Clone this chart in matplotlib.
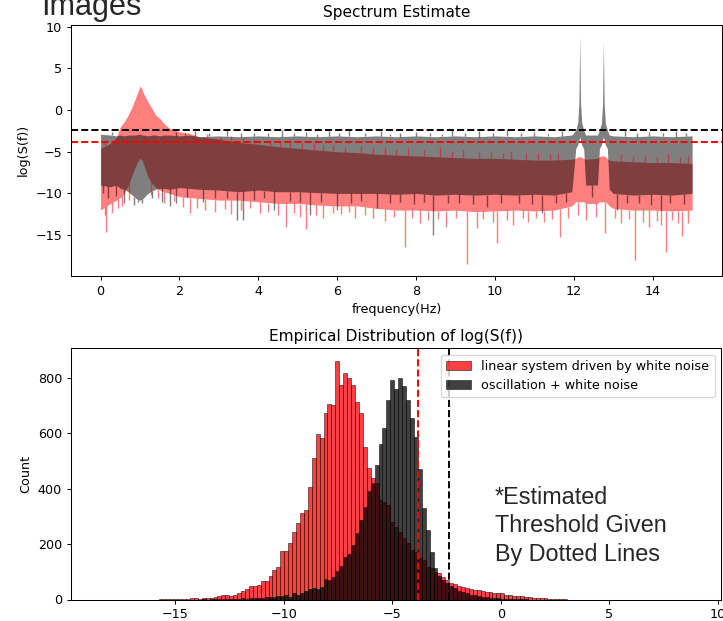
import numpy as np
import matplotlib
matplotlib.use("Agg")
import matplotlib.pyplot as plt

# ---- spectrum estimate (envelopes) ----
freq = [0.0, 0.25, 0.4, 0.5, 0.6, 0.7, 0.8, 0.9, 0.95, 1.0, 1.05, 1.1, 1.2,
        1.3, 1.4, 1.5, 1.6, 1.75, 2.0, 2.25, 2.5, 3.0, 3.5, 4.0, 4.5, 5.0,
        5.5, 6.0, 6.5, 7.0, 7.5, 8.0, 8.5, 9.0, 9.5, 10.0, 10.5, 11.0, 11.5,
        11.95, 12.05, 12.1, 12.13, 12.15, 12.17, 12.2, 12.25, 12.3, 12.6,
        12.65, 12.7, 12.73, 12.75, 12.77, 12.8, 12.85, 12.9, 13.0, 13.5,
        14.0, 14.5, 15.0]

osc_hi = [-2.9, -3.0, -3.1, -3.0, -3.1, -3.0, -3.0, -3.0, -2.9, -2.9, -3.0,
          -3.0, -3.1, -3.0, -3.0, -3.1, -3.0, -3.0, -3.1, -3.0, -3.2, -3.1,
          -3.2, -3.1, -3.2, -3.1, -3.2, -3.1, -3.2, -3.1, -3.2, -3.1, -3.2,
          -3.1, -3.2, -3.1, -3.2, -3.1, -3.2, -3.0, -2.4, -1.5, 1.0, 8.9,
          1.0, -1.5, -2.4, -3.0, -3.0, -2.4, -1.6, 0.8, 8.3, 0.8, -1.6,
          -2.4, -3.0, -3.1, -3.2, -3.1, -3.2, -3.1]
osc_lo = [-9.0, -9.2, -9.0, -9.4, -9.5, -9.8, -10.2, -10.6, -10.8, -10.8,
          -10.7, -10.5, -10.0, -9.7, -9.5, -9.4, -9.4, -9.5, -9.3, -9.4,
          -9.5, -9.6, -9.8, -9.6, -9.8, -9.8, -9.9, -10.0, -10.0, -10.0,
          -10.1, -10.0, -10.2, -10.1, -10.2, -10.1, -10.2, -10.1, -10.2,
          -9.8, -4.6, -4.2, -3.6, -3.2, -3.6, -4.2, -4.6, -9.0, -9.0, -4.6,
          -4.2, -3.6, -3.2, -3.6, -4.2, -4.6, -9.5, -10.0, -10.2, -10.1,
          -10.2, -10.0]

lin_hi = [-4.6, -4.0, -3.3, -2.0, -1.4, -0.6, 0.4, 1.6, 2.2, 2.9, 2.5, 1.9,
          1.0, 0.2, -0.6, -1.0, -1.6, -2.2, -2.6, -2.8, -3.2, -3.5, -3.9,
          -4.1, -4.4, -4.6, -4.8, -5.0, -5.1, -5.3, -5.4, -5.5, -5.6, -5.7,
          -5.8, -5.8, -5.9, -6.0, -6.0, -5.9, -5.8, -5.6, -5.6, -5.6, -5.6,
          -5.7, -5.8, -5.9, -5.8, -5.6, -5.5, -5.5, -5.5, -5.5, -5.6, -5.8,
          -6.0, -6.1, -6.2, -6.3, -6.3, -6.4]
lin_lo = [-12.0, -11.2, -10.8, -10.5, -10.0, -9.0, -7.8, -6.6, -6.1, -5.8,
          -6.0, -6.6, -8.0, -8.8, -9.3, -9.6, -9.8, -10.0, -10.4, -10.5,
          -10.6, -10.8, -10.8, -11.0, -11.2, -11.2, -11.4, -11.5, -11.5,
          -11.8, -12.0, -12.0, -12.1, -12.0, -12.2, -12.1, -12.0, -12.1,
          -12.0, -11.5, -11.0, -11.0, -11.0, -11.0, -11.0, -11.0, -11.0,
          -11.2, -11.2, -11.0, -11.0, -11.0, -11.0, -11.0, -11.0, -11.2,
          -11.5, -11.8, -12.0, -12.0, -12.1, -12.0]

# single spikes sticking out of the bands: (frequency, value)
lin_down = [(0.1, -12.6), (0.15, -14.6), (0.3, -12.4), (0.45, -11.8),
            (0.55, -11.5), (0.72, -10.8), (1.28, -10.2), (1.45, -10.6),
            (1.62, -11.2), (1.85, -10.9), (2.1, -11.6), (2.27, -12.4),
            (2.45, -11.8), (2.65, -12.0), (2.9, -12.2), (3.15, -11.9),
            (3.3, -12.5), (3.55, -12.0), (3.8, -11.7), (4.05, -12.3),
            (4.25, -12.2), (4.5, -12.6), (4.7, -14.0), (4.9, -12.4),
            (5.05, -12.8), (5.2, -14.3), (5.45, -12.6), (5.65, -12.9),
            (5.9, -12.4), (6.1, -12.5), (6.3, -12.2), (6.45, -12.9),
            (6.7, -12.6), (6.9, -13.0), (7.2, -13.3), (7.45, -12.8),
            (7.72, -16.4), (7.9, -13.0), (8.1, -13.6), (8.3, -13.2),
            (8.55, -13.1), (8.75, -14.0), (9.0, -13.0), (9.3, -18.5),
            (9.54, -14.2), (9.7, -13.1), (9.95, -13.4), (10.05, -16.0),
            (10.3, -13.2), (10.45, -13.8), (10.7, -13.0), (10.85, -13.4),
            (11.05, -13.0), (11.25, -13.4), (11.45, -13.1), (11.66, -15.2),
            (11.85, -13.0), (12.1, -12.6), (12.3, -13.2), (12.55, -12.8),
            (12.8, -14.8), (13.05, -13.0), (13.2, -13.6), (13.4, -13.1),
            (13.56, -18.0), (13.75, -13.4), (13.9, -14.0), (14.1, -13.3),
            (14.2, -13.8), (14.35, -17.0), (14.5, -13.2), (14.65, -13.5),
            (14.75, -15.1), (14.9, -13.5)]
lin_up = [(0.1, -3.6), (2.7, -2.9), (3.05, -3.2), (3.3, -3.1), (3.6, -3.4),
          (3.9, -3.5), (4.3, -3.6), (4.55, -3.8), (4.8, -3.9), (5.1, -3.9),
          (5.4, -4.0), (5.65, -4.2), (5.9, -4.2), (6.2, -4.4), (6.6, -4.3),
          (6.9, -4.6), (7.2, -4.4), (7.5, -4.7), (7.8, -4.6), (8.2, -4.8),
          (8.6, -4.4), (8.9, -4.9), (9.2, -4.8), (9.6, -5.0), (9.9, -5.0),
          (10.2, -5.1), (10.4, -4.9), (10.8, -5.2), (11.1, -5.2),
          (11.4, -5.3), (11.6, -5.1), (13.2, -5.3), (13.5, -5.5),
          (13.8, -5.4), (14.1, -5.6), (14.4, -5.3), (14.7, -5.6),
          (14.9, -5.5)]
osc_down = [(0.05, -10.0), (0.2, -10.6), (0.4, -10.3), (0.6, -11.2),
            (0.85, -11.4), (0.95, -11.0), (1.05, -11.2), (1.3, -10.6),
            (1.55, -11.0), (1.75, -11.5), (1.9, -11.2), (2.2, -10.4),
            (2.6, -11.0), (2.9, -10.5), (3.2, -10.6), (3.47, -13.2),
            (3.6, -13.2), (3.9, -10.8), (4.15, -10.6), (4.4, -12.0),
            (4.8, -10.9), (5.05, -11.0), (5.3, -12.6), (5.6, -11.0),
            (6.0, -12.0), (6.35, -11.1), (6.6, -10.9), (7.0, -11.8),
            (7.35, -11.2), (7.6, -11.0), (7.95, -11.3), (8.2, -11.0),
            (8.44, -15.0), (8.8, -11.2), (9.1, -11.1), (9.45, -11.3),
            (9.8, -11.6), (10.15, -11.2), (10.6, -11.1), (10.95, -11.3),
            (11.2, -12.4), (11.55, -11.2), (11.8, -11.0), (12.45, -10.4),
            (13.1, -12.0), (13.35, -11.2), (13.65, -11.1), (13.95, -11.4),
            (14.2, -12.0), (14.45, -11.2), (14.8, -11.3)]
osc_up = [(0.3, -2.6), (1.9, -2.6), (2.15, -2.8), (2.4, -2.5), (2.75, -2.8),
          (3.2, -2.3), (3.55, -2.8), (3.9, -2.7), (4.25, -2.8), (4.6, -2.4),
          (4.9, -2.8), (5.2, -2.6), (5.5, -2.9), (5.8, -2.5), (6.05, -2.8),
          (6.3, -2.3), (6.7, -2.8), (7.1, -2.5), (7.35, -2.9), (7.6, -2.7),
          (8.0, -2.6), (8.35, -2.8), (8.65, -2.9), (8.9, -2.4), (9.25, -2.8),
          (9.6, -2.5), (9.95, -2.8), (10.3, -2.3), (10.65, -2.8),
          (11.0, -2.6), (11.35, -2.9), (11.7, -2.5), (13.3, -2.4),
          (13.6, -2.8), (13.9, -2.6), (14.25, -2.8), (14.6, -2.5),
          (14.85, -2.8)]

thr_osc = -2.38
thr_lin = -3.79

# ---- histogram of log(S(f)) ----
bin_width = 0.181
lin_first_edge = -15.765
lin_counts = [1, 1, 2, 3, 2, 2, 3, 2, 4, 4, 3, 6, 5, 7, 8, 13, 15, 16, 13, 17,
              23, 31, 38, 50, 48, 53, 68, 68, 85, 106, 116, 175, 175, 205,
              242, 275, 312, 323, 407, 509, 597, 581, 672, 705, 701, 861,
              773, 816, 799, 773, 713, 671, 551, 473, 437, 419, 359, 353,
              341, 281, 263, 245, 221, 203, 179, 172, 149, 142, 118, 112,
              100, 94, 82, 70, 60, 56, 48, 46, 42, 38, 36, 34, 30, 28, 26,
              24, 22, 22, 18, 16, 14, 13, 11, 10, 8, 7, 6, 5, 4, 3, 2, 2, 1, 1]
osc_first_edge = -13.774
osc_counts = [1, 0, 1, 1, 2, 1, 2, 2, 3, 3, 4, 3, 5, 6, 5, 7, 8, 9, 10, 12,
              12, 16, 9, 25, 18, 22, 32, 37, 40, 38, 44, 73, 70, 82, 104,
              121, 154, 165, 195, 240, 285, 335, 390, 420, 485, 560, 620,
              719, 791, 758, 800, 770, 719, 653, 585, 470, 330, 250, 170,
              115, 85, 70, 58, 48, 40, 32, 26, 22, 18, 15, 12, 10, 8, 6, 5,
              4, 3, 3, 2, 2, 1, 1, 1]

lin_label = "linear system driven by white noise"
osc_label = "oscillation + white noise"


def draw_band(ax, lo, hi, down, up, color):
    ax.fill_between(freq, lo, hi, color=color, alpha=0.5, linewidth=0)
    for spikes, env in ((down, lo), (up, hi)):
        fs = [s[0] for s in spikes]
        vals = [s[1] for s in spikes]
        start = np.interp(fs, freq, env)
        ax.vlines(fs, start, vals, color=color, alpha=0.5, linewidth=1.1)


DPI = 92
fig = plt.figure(figsize=(723 / DPI, 621 / DPI), dpi=DPI)
ax1 = fig.add_axes([71 / 723, (621 - 275.7) / 621, 650.7 / 723, 250.7 / 621])
ax2 = fig.add_axes([71 / 723, (621 - 599.5) / 621, 650 / 723, 251.2 / 621])

# top: spectrum
draw_band(ax1, lin_lo, lin_hi, lin_down, lin_up, "red")
draw_band(ax1, osc_lo, osc_hi, osc_down, osc_up, "black")
ax1.axhline(thr_osc, color="k", ls="--", lw=1.5)
ax1.axhline(thr_lin, color="r", ls="--", lw=1.5)
ax1.set_xlim(-0.75, 15.75)
ax1.set_ylim(-19.87, 10.2)
ax1.set_xticks(np.arange(0, 15, 2))
ax1.set_yticks([-15, -10, -5, 0, 5, 10])
ax1.set_xlabel("frequency(Hz)")
ax1.set_ylabel("log(S(f))")
ax1.set_title("Spectrum Estimate")

# bottom: histograms
lin_edges = lin_first_edge + bin_width * np.arange(len(lin_counts))
osc_edges = osc_first_edge + bin_width * np.arange(len(osc_counts))
ax2.bar(lin_edges, lin_counts, width=bin_width, align="edge", color="red",
        alpha=0.75, edgecolor="black", linewidth=0.5, label=lin_label)
ax2.bar(osc_edges, osc_counts, width=bin_width, align="edge", color="black",
        alpha=0.75, edgecolor="black", linewidth=0.5, label=osc_label)
ax2.axvline(thr_lin, color="r", ls="--", lw=1.5)
ax2.axvline(thr_osc, color="k", ls="--", lw=1.5)
ax2.set_xlim(-19.8, 10.15)
ax2.set_ylim(0, 906)
ax2.set_xticks([-15, -10, -5, 0, 5, 10])
ax2.set_yticks([0, 200, 400, 600, 800])
ax2.set_ylabel("Count")
ax2.set_title("Empirical Distribution of log(S(f))")
ax2.legend(loc="upper right")

# overlaid annotation text
fig.text(40.7 / 723, 1 - 15 / 621, "Images", ha="left", va="baseline",
         fontsize=24, family="Liberation Sans", color="#262626")
for i, line in enumerate(["*Estimated", "Threshold Given", "By Dotted Lines"]):
    y = 504.3 + 28.2 * i
    fig.text(495 / 723, 1 - y / 621, line, ha="left", va="baseline",
             fontsize=18.3, family="Liberation Sans", color="#262626")

fig.savefig("out.png", dpi=DPI)
